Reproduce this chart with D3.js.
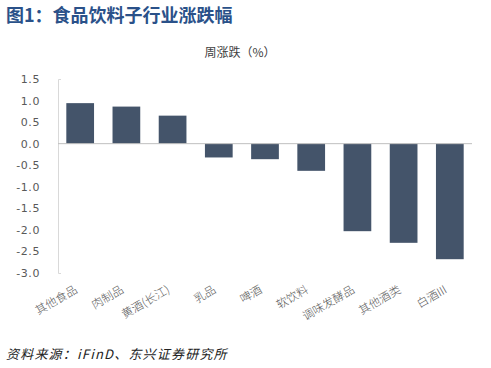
<!DOCTYPE html>
<html>
<head>
<meta charset="utf-8">
<script src="https://cdn.jsdelivr.net/npm/d3@7"></script>
<style>
  html, body { margin: 0; padding: 0; background: #fff; }
  svg { display: block; }
</style>
</head>
<body>
<div id="chart"></div>
<script>
// Weekly change by food & beverage sub-industry
const categories = ["其他食品", "肉制品", "黄酒(长江)", "乳品", "啤酒", "软饮料", "调味发酵品", "其他酒类", "白酒III"];
const values = [0.94, 0.86, 0.65, -0.32, -0.36, -0.63, -2.03, -2.30, -2.68];
const yTicks = [1.5, 1.0, 0.5, 0.0, -0.5, -1.0, -1.5, -2.0, -2.5, -3.0];

const width = 491, height = 368;
const cjk = "'Noto Sans CJK SC', 'Noto Sans', sans-serif";
const plot = { left: 58, right: 472, top: 79, bottom: 273 };

const svg = d3.select("#chart").append("svg")
  .attr("width", width)
  .attr("height", height);

// Title
svg.append("text")
  .attr("x", 6)
  .attr("y", 22)
  .attr("font-family", cjk)
  .attr("font-size", 18)
  .attr("font-weight", 700)
  .attr("fill", "#2A5189")
  .text("图1：食品饮料子行业涨跌幅");

// Chart title
svg.append("text")
  .attr("x", 240)
  .attr("y", 57)
  .attr("text-anchor", "middle")
  .attr("font-family", cjk)
  .attr("font-size", 12)
  .attr("fill", "#404040")
  .text("周涨跌（%）");

const x = d3.scaleBand()
  .domain(categories)
  .range([plot.left, plot.right])
  .paddingInner(0.4)
  .paddingOuter(0.18);

const y = d3.scaleLinear()
  .domain([-3, 1.5])
  .range([plot.bottom, plot.top]);

// Y axis
const yAxis = svg.append("g")
  .attr("transform", `translate(${plot.left},0)`)
  .call(d3.axisLeft(y)
    .tickValues(yTicks)
    .tickSizeInner(0)
    .tickSizeOuter(-3)
    .tickPadding(18)
    .tickFormat(d3.format(".1f")));

yAxis.select(".domain").attr("stroke", "#d9d9d9");
yAxis.selectAll("text")
  .attr("font-family", "'DejaVu Sans', sans-serif")
  .attr("font-size", 11)
  .attr("letter-spacing", 0.6)
  .attr("fill", "#595959")
  .text(d => d3.format(".1f")(d).replace("−", "-"));

// Bars
svg.append("g")
  .selectAll("rect")
  .data(values)
  .join("rect")
  .attr("x", (d, i) => x(categories[i]))
  .attr("y", d => y(Math.max(0, d)))
  .attr("width", x.bandwidth())
  .attr("height", d => Math.abs(y(d) - y(0)))
  .attr("fill", "#44546A");

// Zero line
svg.append("line")
  .attr("x1", plot.left)
  .attr("x2", plot.right)
  .attr("y1", y(0))
  .attr("y2", y(0))
  .attr("stroke", "#bfbfbf");

// Category labels (rotated)
svg.append("g")
  .selectAll("text")
  .data(categories)
  .join("text")
  .attr("transform", d => `translate(${x(d) + x.bandwidth() / 2 - 2},${plot.bottom + 19}) rotate(-30)`)
  .attr("text-anchor", "end")
  .attr("font-family", cjk)
  .attr("font-size", 11.5)
  .attr("font-weight", 300)
  .attr("fill", "#595959")
  .text(d => d);

// Source note
svg.append("text")
  .attr("x", 6)
  .attr("y", 359)
  .attr("font-family", cjk)
  .attr("font-size", 13)
  .attr("font-style", "italic")
  .attr("letter-spacing", 1.2)
  .attr("fill", "#222")
  .text("资料来源：iFinD、东兴证券研究所");
</script>
</body>
</html>
